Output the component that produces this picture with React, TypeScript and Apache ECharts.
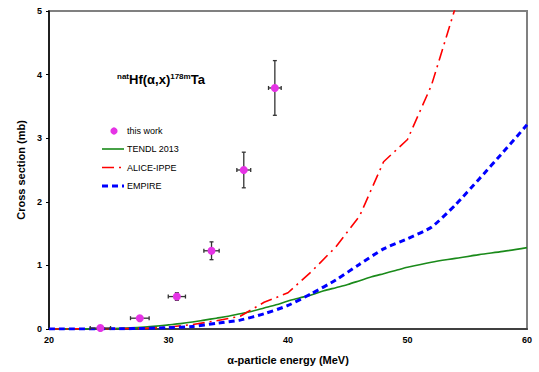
import React, { useEffect, useRef } from "react";
import * as echarts from "echarts";

const expEnergy = [24.3, 27.6, 30.7, 33.6, 36.3, 38.9];
const expCross = [0.015, 0.17, 0.51, 1.23, 2.5, 3.79];
const expEnergyErr = [0.85, 0.78, 0.72, 0.64, 0.58, 0.53];
const expCrossErr = [0.005, 0.02, 0.06, 0.14, 0.28, 0.43];

const tendl: [number, number][] = [
  [20, 0], [22, 0.001], [24, 0.003], [26, 0.01], [28, 0.03], [29, 0.045], [30, 0.065],
  [31, 0.085], [32, 0.11], [33, 0.14], [34, 0.17], [35, 0.2], [36, 0.24], [37, 0.28],
  [38, 0.33], [39, 0.38], [40, 0.44], [41, 0.49], [42, 0.54], [43, 0.6], [44, 0.65],
  [45, 0.7], [46, 0.76], [47, 0.82], [48, 0.87], [49, 0.92], [50, 0.97], [52, 1.05],
  [54, 1.11], [56, 1.17], [58, 1.22], [60, 1.28],
];
const alice: [number, number][] = [
  [20, 0], [25, 0.003], [28, 0.01], [30, 0.03], [32, 0.07], [34, 0.13], [36, 0.2],
  [38, 0.42], [40, 0.57], [42, 0.91], [44, 1.29], [46, 1.78], [48, 2.63], [50, 2.98],
  [52, 3.83], [54, 5.05], [55, 5.65],
];
const empire: [number, number][] = [
  [20, 0], [26, 0.003], [28, 0.01], [30, 0.02], [32, 0.04], [34, 0.09], [36, 0.14],
  [38, 0.24], [40, 0.37], [42, 0.56], [44, 0.77], [46, 1.02], [48, 1.26], [50, 1.42],
  [52, 1.6], [54, 1.95], [56, 2.36], [58, 2.78], [60, 3.21],
];

const legendNames = ["this work", "TENDL 2013", "ALICE-IPPE", "EMPIRE"];

const FONT = "'Liberation Sans', Arial, sans-serif";
const C_EXP = "#e533e5";
const C_TENDL = "#1a8a1a";
const C_ALICE = "#ff0000";
const C_EMPIRE = "#0000ff";
const DASH_ALICE = [12, 5, 2, 5];
const DASH_EMPIRE = [6, 4];

export default function App() {
  const ref = useRef<HTMLDivElement>(null);
  useEffect(() => {
    if (!ref.current) return;
    const chart = echarts.init(ref.current, undefined, { renderer: "svg" });
    const expData = expEnergy.map((x, i) => [x, expCross[i], expEnergyErr[i], expCrossErr[i]]);

    const rowY = [131, 149, 167.5, 186];
    const lx1 = 102, lx2 = 124, tx = 127;
    const legendGraphics: any[] = [
      { type: "circle", shape: { cx: 114, cy: rowY[0], r: 3.6 }, style: { fill: C_EXP } },
      { type: "line", shape: { x1: lx1, y1: rowY[1], x2: lx2, y2: rowY[1] }, style: { stroke: C_TENDL, lineWidth: 1.6 } },
      { type: "line", shape: { x1: lx1, y1: rowY[2], x2: lx2, y2: rowY[2] }, style: { stroke: C_ALICE, lineWidth: 1.6, lineDash: DASH_ALICE } },
      { type: "line", shape: { x1: lx1, y1: rowY[3], x2: lx2, y2: rowY[3] }, style: { stroke: C_EMPIRE, lineWidth: 3, lineDash: DASH_EMPIRE } },
      ...legendNames.map((n, i) => ({
        type: "text",
        x: tx,
        y: rowY[i],
        style: { text: n, fontFamily: FONT, fontSize: 9, fill: "#000", verticalAlign: "middle", align: "left" },
      })),
    ];

    chart.setOption({
      animation: false,
      backgroundColor: "#ffffff",
      grid: {
        left: 49, right: 12, top: 11, bottom: 43,
        show: true, borderColor: "#808080", borderWidth: 2, backgroundColor: "transparent",
      },
      xAxis: {
        type: "value", min: 20, max: 60, interval: 10,
        name: "α-particle energy (MeV)",
        nameLocation: "middle", nameGap: 25,
        nameTextStyle: { fontFamily: FONT, fontSize: 11, fontWeight: "bold", color: "#000" },
        axisLine: { show: true, onZero: false, lineStyle: { color: "#404040", width: 2 } },
        axisTick: { show: false },
        splitLine: { show: false },
        axisLabel: { fontFamily: FONT, fontSize: 9, fontWeight: "bold", color: "#000", margin: 6 },
      },
      yAxis: {
        type: "value", min: 0, max: 5, interval: 1,
        name: "Cross section (mb)",
        nameLocation: "middle", nameGap: 21, nameRotate: 90,
        nameTextStyle: { fontFamily: FONT, fontSize: 11, fontWeight: "bold", color: "#000" },
        axisLine: { show: true, lineStyle: { color: "#000", width: 1.5 } },
        axisTick: { show: true, length: 3, lineStyle: { color: "#000" } },
        splitLine: { show: false },
        axisLabel: { fontFamily: FONT, fontSize: 9, fontWeight: "bold", color: "#000", margin: 7 },
      },
      graphic: [
        {
          type: "text",
          left: 117,
          top: 72,
          style: {
            text: "{s|nat}{b|Hf(α,x)}{s|178m}{b|Ta}",
            rich: {
              s: { fontFamily: FONT, fontSize: 8, fontWeight: "bold", fill: "#000", padding: [0, 0, 7, 0] },
              b: { fontFamily: FONT, fontSize: 13, fontWeight: "bold", fill: "#000" },
            },
          },
        },
        ...legendGraphics,
      ],
      series: [
        {
          type: "custom",
          name: "err",
          z: 3,
          encode: { x: 0, y: 1 },
          data: expData,
          renderItem: (params: any, api: any) => {
            const x = api.value(0), y = api.value(1), xe = api.value(2), ye = api.value(3);
            const c = api.coord([x, y]);
            const l = api.coord([x - xe, y]);
            const r = api.coord([x + xe, y]);
            const t = api.coord([x, y + ye]);
            const b = api.coord([x, y - ye]);
            const st = { stroke: "#333", lineWidth: 1.3 };
            const cap = 2;
            return {
              type: "group",
              children: [
                { type: "line", shape: { x1: l[0], y1: c[1], x2: r[0], y2: c[1] }, style: st },
                { type: "line", shape: { x1: l[0], y1: c[1] - cap, x2: l[0], y2: c[1] + cap }, style: st },
                { type: "line", shape: { x1: r[0], y1: c[1] - cap, x2: r[0], y2: c[1] + cap }, style: st },
                { type: "line", shape: { x1: c[0], y1: t[1], x2: c[0], y2: b[1] }, style: st },
                { type: "line", shape: { x1: c[0] - cap, y1: t[1], x2: c[0] + cap, y2: t[1] }, style: st },
                { type: "line", shape: { x1: c[0] - cap, y1: b[1], x2: c[0] + cap, y2: b[1] }, style: st },
              ],
            };
          },
        },
        {
          type: "line",
          name: "TENDL 2013",
          data: tendl,
          symbol: "none",
          smooth: 0.3,
          z: 2,
          lineStyle: { color: C_TENDL, width: 1.6, type: "solid" },
        },
        {
          type: "line",
          name: "ALICE-IPPE",
          data: alice,
          symbol: "none",
          z: 2,
          lineStyle: { color: C_ALICE, width: 1.6, type: DASH_ALICE },
        },
        {
          type: "line",
          name: "EMPIRE",
          data: empire,
          symbol: "none",
          smooth: 0.2,
          z: 2,
          lineStyle: { color: C_EMPIRE, width: 3, type: DASH_EMPIRE },
        },
        {
          type: "scatter",
          name: "this work",
          data: expData.map((d) => [d[0], d[1]]),
          symbol: "circle",
          symbolSize: 8,
          z: 5,
          itemStyle: { color: C_EXP, opacity: 1 },
        },
      ],
    });
    return () => chart.dispose();
  }, []);
  return <div ref={ref} style={{ width: 539, height: 372, position: "absolute", left: 0, top: 0 }} />;
}
